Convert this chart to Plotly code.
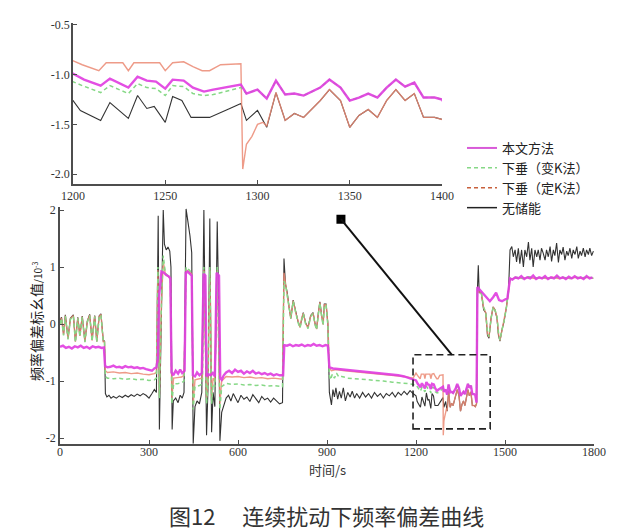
import plotly.graph_objects as go

# ---------------- data (time s, value p.u. x10^-3) ----------------
BLACK = [(0,0.05),(5,0.12),(12,-0.18),(18,0.16),(27,-0.25),(35,0.1),(45,0.16),(52,-0.3),(60,0.12),(67,-0.2),(75,0.14),(84,-0.3),(92,0.05),(100,0.17),(108,-0.28),(117,0.15),(124,-0.3),(132,0.14),(138,0.18),(146,-0.3),(150,-0.3),
 (153,-1.22),(158,-1.28),(165,-1.25),(172,-1.3),(180,-1.27),(190,-1.3),(200,-1.26),(210,-1.29),(220,-1.25),(230,-1.28),(240,-1.24),(250,-1.27),(260,-1.23),(270,-1.26),(280,-1.22),(290,-1.25),(300,-1.3),(310,-1.22),(318,-1.15),(325,-1.2),
 (331,1.9),(335,-1.85),(342,0.5),(348,2.0),(352,1.4),(358,1.3),(364,1.35),(370,1.28),(374,1.0),(378,-1.85),(382,-1.35),(390,-1.3),(398,-1.38),(405,-1.25),(412,-1.3),(418,-1.2),(425,2.02),(432,1.8),(438,1.55),(444,1.25),(449,-2.1),(455,-1.45),(462,-1.35),(470,-1.4),(478,-1.2),(485,2.0),(490,0.2),(494,-1.95),(499,-1.1),(505,1.85),(511,-1.9),(516,-1.2),(522,-1.45),(530,1.8),(535,0.3),(539,-2.05),
 (545,-1.55),(552,-1.45),(560,-1.3),(568,-1.25),(576,-1.35),(584,-1.22),(592,-1.3),(600,-1.38),(610,-1.25),(620,-1.32),(630,-1.28),(640,-1.36),(650,-1.24),(660,-1.3),(670,-1.38),(680,-1.27),(690,-1.33),(700,-1.3),(710,-1.37),(720,-1.3),(730,-1.35),(740,-1.4),(750,-1.38),
 (755,1.15),(760,0.7),(766,0.55),(772,0.3),(778,0.1),(786,0.42),(795,0.2),(802,0.05),(809,-0.05),(815,0.12),(820,0.2),(828,0.02),(836,-0.06),(845,0.15),(853,0.2),(860,0.0),(865,-0.08),(871,0.2),(876,0.39),(882,0.15),(887,0.0),(891,0.35),(897,0.35),(903,0.0),
 (908,-1.2),(915,-1.42),(920,-1.15),(925,-1.28),(930,-1.12),(936,-1.32),(942,-1.18),(948,-1.3),(955,-1.12),(962,-1.35),(970,-1.2),(978,-1.28),(985,-1.18),(993,-1.3),(1000,-1.22),(1010,-1.3),(1020,-1.2),(1030,-1.28),(1040,-1.22),(1050,-1.3),(1060,-1.2),(1070,-1.27),(1080,-1.22),(1090,-1.3),(1100,-1.22),(1110,-1.26),(1120,-1.2),(1130,-1.28),(1140,-1.2),(1150,-1.25),(1160,-1.18),(1170,-1.24),(1180,-1.17),(1190,-1.22),
 (1200,-1.26),(1204,-1.36),(1215,-1.46),(1220,-1.28),(1230,-1.44),(1235,-1.21),(1240,-1.34),(1244,-1.32),(1250,-1.48),(1254,-1.22),(1259,-1.26),(1264,-1.43),(1269,-1.43),(1274,-1.43),(1285,-1.34),(1291,-1.29),(1294,-1.46),(1300,-1.36),(1305,-1.53),(1310,-1.18),(1315,-1.46),(1320,-1.39),(1325,-1.43),(1334,-1.26),(1339,-1.15),(1345,-1.26),(1350,-1.53),(1355,-1.41),(1360,-1.35),(1365,-1.43),(1370,-1.26),(1375,-1.15),(1380,-1.26),(1385,-1.19),(1390,-1.43),(1396,-1.43),(1400,-1.45),
 (1404,-1.4),(1407,0.6),(1410,1.03),(1413,0.55),(1420,0.55),(1428,0.25),(1435,0.2),(1441,-0.2),(1446,-0.25),(1453,0.1),(1460,0.3),(1466,0.25),(1473,0.1),(1478,-0.2),(1483,-0.3),(1490,-0.1),(1497,0.05),(1505,0.3),(1512,0.6),
 (1517,1.3),(1523,1.36),(1528,1.18),(1534,1.3),(1539,1.09),(1545,1.33),(1550,1.06),(1556,1.3),(1562,1.0),(1567,1.3),(1573,1.18),(1579,1.44),(1584,1.12),(1590,1.33),(1595,1.0),(1601,1.3),(1607,1.18),(1612,1.3),(1618,1.12),(1623,1.33),(1629,1.24),(1635,1.12),(1640,1.3),(1646,1.18),(1652,1.36),(1657,1.1),(1663,1.3),(1668,1.2),(1674,1.42),(1680,1.08),(1685,1.3),(1691,1.22),(1696,1.35),(1702,1.12),(1708,1.28),(1713,1.2),(1719,1.33),(1725,1.15),(1730,1.3),(1736,1.22),(1742,1.36),(1747,1.15),(1753,1.28),(1758,1.2),(1764,1.33),(1770,1.18),(1775,1.3),(1781,1.22),(1786,1.33),(1792,1.2),(1798,1.28)]

GREEN = [(0,0.0),(5,0.1),(12,-0.2),(18,0.14),(27,-0.27),(35,0.08),(45,0.14),(52,-0.32),(60,0.1),(67,-0.22),(75,0.12),(84,-0.32),(92,0.03),(100,0.15),(108,-0.3),(117,0.13),(124,-0.32),(132,0.12),(138,0.16),(146,-0.32),(150,-0.32),
 (153,-0.92),(160,-0.95),(180,-0.96),(200,-0.95),(220,-0.97),(240,-0.96),(260,-0.98),(280,-0.97),(300,-0.99),(318,-0.98),(325,-0.95),
 (330,1.0),(335,-1.3),(342,0.4),(348,1.2),(355,0.9),(365,0.85),(372,0.8),(377,-1.4),(383,-1.05),(395,-1.05),(410,-1.03),(418,-1.0),(425,1.0),(435,0.95),(444,0.9),(449,-1.5),(455,-1.1),(470,-1.08),(480,-1.05),(485,1.0),(494,-1.4),(499,-1.05),(505,1.0),(511,-1.4),(516,-1.05),(522,-1.1),(530,1.0),(539,-1.5),
 (545,-1.1),(560,-1.04),(580,-1.06),(600,-1.05),(620,-1.07),(640,-1.06),(660,-1.08),(680,-1.07),(700,-1.09),(720,-1.08),(740,-1.1),(750,-1.1),
 (755,0.75),(760,0.7),(766,0.5),(772,0.3),(778,0.1),(786,0.4),(795,0.18),(802,0.03),(809,-0.07),(815,0.1),(820,0.18),(828,0.0),(836,-0.08),(845,0.13),(853,0.18),(860,-0.02),(865,-0.1),(871,0.18),(876,0.37),(882,0.13),(887,-0.02),(891,0.33),(897,0.33),(903,-0.02),
 (908,-0.9),(912,-0.98),(918,-0.88),(925,-0.95),(932,-0.86),(940,-0.93),(950,-0.92),(970,-0.95),(1000,-0.96),(1030,-0.98),(1060,-0.99),(1090,-1.0),(1120,-1.02),(1150,-1.03),(1180,-1.05),
 (1200,-1.07),(1205,-1.11),(1215,-1.18),(1220,-1.11),(1230,-1.19),(1235,-1.09),(1240,-1.13),(1245,-1.14),(1250,-1.21),(1254,-1.11),(1260,-1.12),(1265,-1.19),(1271,-1.21),(1276,-1.2),(1285,-1.16),(1291,-1.13),
 (1294,-1.19),(1300,-1.15),(1305,-1.24),(1310,-1.06),(1315,-1.2),(1320,-1.19),(1325,-1.21),(1334,-1.13),(1339,-1.05),(1345,-1.13),(1350,-1.26),(1355,-1.23),(1360,-1.19),(1365,-1.23),(1370,-1.13),(1375,-1.05),(1380,-1.12),(1385,-1.08),(1390,-1.23),(1396,-1.23),(1400,-1.25),
 (1404,-1.38),(1407,0.62),(1413,0.58),(1420,0.55),(1428,0.3),(1435,0.2),(1441,-0.15),(1446,-0.22),(1453,0.1),(1460,0.3),(1466,0.25),(1473,0.15),(1478,-0.15),(1483,-0.28),(1490,-0.1),(1497,0.05),(1505,0.3),(1512,0.55),
 (1517,0.8),(1540,0.82),(1560,0.8),(1580,0.83),(1600,0.81),(1620,0.8),(1640,0.82),(1660,0.8),(1680,0.83),(1700,0.81),(1720,0.8),(1740,0.82),(1760,0.81),(1780,0.83),(1798,0.8)]

RED = [(0,0.02),(5,0.11),(12,-0.19),(18,0.15),(27,-0.26),(35,0.09),(45,0.15),(52,-0.31),(60,0.11),(67,-0.21),(75,0.13),(84,-0.31),(92,0.04),(100,0.16),(108,-0.29),(117,0.14),(124,-0.31),(132,0.13),(138,0.17),(146,-0.31),(150,-0.31),
 (153,-0.82),(160,-0.85),(180,-0.84),(200,-0.86),(220,-0.85),(240,-0.87),(260,-0.86),(280,-0.88),(300,-0.89),(318,-0.87),(325,-0.85),
 (330,0.95),(335,-1.25),(342,0.4),(348,1.1),(355,0.88),(365,0.84),(372,0.8),(377,-1.3),(383,-0.95),(395,-0.94),(410,-0.93),(418,-0.9),(425,0.95),(435,0.92),(444,0.88),(449,-1.4),(455,-0.98),(470,-0.96),(480,-0.95),(485,0.95),(494,-1.3),(499,-0.95),(505,0.95),(511,-1.3),(516,-0.95),(522,-1.0),(530,0.95),(539,-1.4),
 (545,-1.0),(560,-0.92),(580,-0.93),(600,-0.92),(620,-0.94),(640,-0.93),(660,-0.95),(680,-0.94),(700,-0.96),(720,-0.95),(740,-0.97),(750,-0.97),
 (755,0.9),(760,0.7),(766,0.52),(772,0.3),(778,0.1),(786,0.41),(795,0.19),(802,0.04),(809,-0.06),(815,0.11),(820,0.19),(828,0.01),(836,-0.07),(845,0.14),(853,0.19),(860,-0.01),(865,-0.09),(871,0.19),(876,0.38),(882,0.14),(887,-0.01),(891,0.34),(897,0.34),(903,-0.01),
 (908,-0.78),(915,-0.82),(930,-0.8),(960,-0.82),(1000,-0.84),(1040,-0.86),(1080,-0.88),(1120,-0.9),(1160,-0.92),(1190,-0.95),
 (1200,-0.86),(1205,-0.9),(1214,-0.96),(1218,-0.88),(1227,-0.88),(1230,-0.96),(1233,-0.88),(1247,-0.88),(1250,-0.96),(1254,-0.88),(1260,-0.87),(1265,-0.92),(1270,-0.96),(1274,-0.96),(1280,-0.9),(1291,-0.89),
 (1292,-1.95),(1294,-1.7),(1297,-1.62),(1300,-1.5),(1303,-1.48),(1305,-1.52),(1310,-1.18),(1315,-1.46),(1320,-1.39),(1325,-1.43),(1334,-1.26),(1339,-1.15),(1345,-1.26),(1350,-1.53),(1355,-1.41),(1360,-1.35),(1365,-1.43),(1370,-1.26),(1375,-1.15),(1380,-1.26),(1385,-1.19),(1390,-1.43),(1396,-1.43),(1400,-1.45),
 (1404,-1.4),(1407,0.6),(1413,0.56),(1420,0.55),(1428,0.28),(1435,0.2),(1441,-0.17),(1446,-0.23),(1453,0.1),(1460,0.3),(1466,0.25),(1473,0.12),(1478,-0.17),(1483,-0.29),(1490,-0.1),(1497,0.05),(1505,0.3),(1512,0.57),
 (1517,0.79),(1540,0.81),(1560,0.8),(1580,0.82),(1600,0.8),(1620,0.81),(1640,0.8),(1660,0.82),(1680,0.8),(1700,0.81),(1720,0.8),(1740,0.82),(1760,0.8),(1780,0.82),(1798,0.8)]

PROPOSED = [(0,-0.4),(10,-0.38),(20,-0.42),(30,-0.4),(40,-0.43),(50,-0.39),(60,-0.41),(70,-0.38),(80,-0.42),(90,-0.4),(100,-0.43),(110,-0.39),(120,-0.41),(130,-0.4),(140,-0.42),(148,-0.41),
 (152,-0.74),(160,-0.76),(170,-0.75),(180,-0.73),(190,-0.76),(200,-0.75),(210,-0.77),(220,-0.74),(230,-0.76),(240,-0.75),(250,-0.77),(260,-0.76),(270,-0.78),(280,-0.77),(290,-0.79),(300,-0.8),(310,-0.82),(318,-0.78),(325,-0.76),
 (330,-0.6),(334,0.5),(338,0.7),(342,0.92),(350,0.9),(358,0.86),(366,0.84),(372,0.8),(376,-0.85),(382,-0.9),(390,-0.82),(398,-0.87),(405,-0.8),(412,-0.86),(420,-0.82),(424,0.9),(430,0.92),(438,0.88),(444,0.85),(448,-0.9),(455,-0.92),(462,-0.85),(470,-0.9),(478,-0.86),(484,0.88),(490,0.85),(494,-0.92),(500,-0.88),(508,-0.9),(515,-0.86),(522,-0.92),(528,0.9),(536,0.85),(540,-0.95),
 (545,-0.98),(552,-0.9),(560,-0.85),(570,-0.82),(580,-0.86),(590,-0.8),(600,-0.84),(610,-0.82),(620,-0.87),(630,-0.83),(640,-0.86),(650,-0.82),(660,-0.87),(670,-0.85),(680,-0.88),(690,-0.86),(700,-0.89),(710,-0.87),(720,-0.9),(730,-0.88),(740,-0.9),(752,-0.9),
 (756,-0.37),(765,-0.38),(775,-0.36),(785,-0.39),(795,-0.37),(805,-0.38),(815,-0.36),(825,-0.39),(835,-0.37),(845,-0.38),(855,-0.35),(865,-0.38),(875,-0.37),(885,-0.39),(895,-0.37),(903,-0.38),
 (908,-0.76),(920,-0.78),(940,-0.79),(960,-0.8),(980,-0.81),(1000,-0.82),(1020,-0.83),(1040,-0.84),(1060,-0.85),(1080,-0.86),(1100,-0.87),(1120,-0.89),(1140,-0.9),(1160,-0.92),(1180,-0.95),(1190,-0.97),
 (1200,-0.99),(1206,-1.05),(1215,-1.11),(1220,-1.04),(1230,-1.13),(1235,-1.02),(1240,-1.06),(1245,-1.07),(1250,-1.14),(1254,-1.05),(1260,-1.06),(1265,-1.13),(1271,-1.17),(1276,-1.15),(1285,-1.12),(1291,-1.1),(1294,-1.19),(1300,-1.15),(1305,-1.24),(1310,-1.06),(1315,-1.2),(1320,-1.19),(1325,-1.21),(1334,-1.13),(1339,-1.05),(1345,-1.13),(1350,-1.26),(1355,-1.23),(1360,-1.19),(1365,-1.23),(1370,-1.13),(1375,-1.05),(1380,-1.12),(1385,-1.08),(1390,-1.23),(1396,-1.23),(1400,-1.25),
 (1404,-1.38),(1407,0.65),(1415,0.6),(1425,0.55),(1435,0.48),(1449,0.4),(1460,0.47),(1470,0.55),(1480,0.42),(1490,0.4),(1500,0.43),(1508,0.45),
 (1517,0.8),(1525,0.78),(1535,0.82),(1545,0.8),(1555,0.84),(1565,0.79),(1575,0.82),(1585,0.8),(1595,0.85),(1605,0.79),(1615,0.82),(1625,0.8),(1635,0.84),(1645,0.79),(1655,0.82),(1665,0.8),(1675,0.85),(1685,0.8),(1695,0.82),(1705,0.79),(1715,0.83),(1725,0.8),(1735,0.84),(1745,0.8),(1755,0.82),(1765,0.79),(1775,0.84),(1785,0.8),(1795,0.82)]

NAMES = ["本文方法", "下垂（变K法）", "下垂（定K法）", "无储能"]

MAIN_XTICKS = [0, 300, 600, 900, 1200, 1500, 1800]
MAIN_XTEXT = ["0", "300", "600", "900", "1200", "1500", "1800"]
MAIN_YTICKS = [-2, -1, 0, 1, 2]
MAIN_YTEXT = ["-2", "-1", "0", "1", "2"]
INSET_XTICKS = [1200, 1250, 1300, 1350, 1400]
INSET_XTEXT = ["1200", "1250", "1300", "1350", "1400"]
INSET_YTICKS = [-2.0, -1.5, -1.0, -0.5]
INSET_YTEXT = ["-2.0", "-1.5", "-1.0", "-0.5"]

ZOOM_BOX = [1190, 1450, -1.84, -0.54]      # x0, x1, y0, y1 of dashed window
POINTER = [947, 1.84, 1321, -0.54]        # square marker -> box top

# ---------------- styling ----------------
W, H = 640, 531
C_MAG = "#e03ce0"
C_GRN = "#86d886"
C_RED = "#ec8a74"
C_BLK = "#333333"
AX_COL = "#4d4d4d"
NUM_FONT = dict(family="Liberation Serif", size=12, color="#333")
CJK = "Noto Sans CJK SC"

def px_x(p):
    return p / W

def px_y(p):
    return 1 - p / H

fig = go.Figure()

series = [
    (BLACK, dict(color=C_BLK, width=1.1), 1.0),
    (RED, dict(color=C_RED, width=1.4), 0.85),
    (GREEN, dict(color=C_GRN, width=1.5, dash="4px,3px"), 1.0),
    (PROPOSED, dict(color=C_MAG, width=2.4), 0.9),
]
for axes in (("x", "y"), ("x2", "y2")):
    for data, line, op in series:
        t = [p[0] for p in data]
        v = [p[1] for p in data]
        fig.add_trace(go.Scatter(x=t, y=v, mode="lines", line=line, opacity=op,
                                 xaxis=axes[0], yaxis=axes[1], showlegend=False,
                                 hoverinfo="skip"))

# legend entries
leg_styles = [dict(color="#d85ad8", width=2), dict(color=C_GRN, width=1.5, dash="4px,3px"),
              dict(color="#c8603c", width=1.5, dash="4px,3px"), dict(color="#222", width=1.5)]
for i, (nm, st) in enumerate(zip(NAMES, leg_styles)):
    fig.add_trace(go.Scatter(x=[None], y=[None], mode="lines", line=st, name=nm,
                             legendrank=i + 1, xaxis="x", yaxis="y"))

# square marker of pointer
fig.add_trace(go.Scatter(x=[POINTER[0]], y=[POINTER[1]], mode="markers",
                         marker=dict(symbol="square", size=9, color="black"),
                         showlegend=False, hoverinfo="skip"))

axis_common = dict(showline=True, linecolor=AX_COL, linewidth=1.5, ticks="inside",
                   ticklen=4, tickcolor=AX_COL, tickwidth=1.2, showgrid=False,
                   zeroline=False, tickfont=NUM_FONT, mirror=False, automargin=False)

fig.update_layout(
    width=W, height=H, autosize=False,
    margin=dict(l=0, r=0, t=0, b=0),
    paper_bgcolor="white", plot_bgcolor="white",
    xaxis=dict(domain=[px_x(60), px_x(594)], range=[0, 1800], tickmode="array",
               tickvals=MAIN_XTICKS, ticktext=MAIN_XTEXT, anchor="y",
               ticklabelstandoff=-4, **axis_common),
    yaxis=dict(domain=[px_y(443.7), px_y(207.2)], range=[-2.1, 2.05], tickmode="array",
               tickvals=MAIN_YTICKS, ticktext=MAIN_YTEXT, anchor="x", **axis_common),
    xaxis2=dict(domain=[px_x(73), px_x(442)], range=[1200, 1400], tickmode="array",
                tickvals=INSET_XTICKS, ticktext=INSET_XTEXT, anchor="y2", **axis_common),
    yaxis2=dict(domain=[px_y(184), px_y(23)], range=[-2.1, -0.48], tickmode="array",
                tickvals=INSET_YTICKS, ticktext=INSET_YTEXT, anchor="x2",
                ticklabelstandoff=-1, **axis_common),
    legend=dict(x=px_x(462), y=px_y(133), xanchor="left", yanchor="top",
                font=dict(family=CJK, size=13, color="#222"), bgcolor="rgba(0,0,0,0)",
                tracegroupgap=0, itemwidth=30),
    shapes=[
        dict(type="rect", xref="x", yref="y", x0=ZOOM_BOX[0], x1=ZOOM_BOX[1],
             y0=ZOOM_BOX[2], y1=ZOOM_BOX[3], line=dict(color="#222", width=1.6, dash="7px,4px")),
        dict(type="line", xref="x", yref="y", x0=POINTER[0], y0=POINTER[1],
             x1=POINTER[2], y1=POINTER[3], line=dict(color="#111", width=2)),
    ],
    annotations=[
        dict(text="频率偏差标幺值<span style='font-size:10px'>/10<sup>-3</sup></span>",
             textangle=-90, xref="paper", yref="paper", x=px_x(36), y=px_y(322),
             xanchor="center", yanchor="middle",
             showarrow=False, font=dict(family=CJK, size=14, color="#222")),
        dict(text="时间/s", xref="paper", yref="paper", x=px_x(327), y=px_y(469),
             xanchor="center", yanchor="middle",
             showarrow=False, font=dict(family=CJK, size=13, color="#333")),
        dict(text="图12\u3000 连续扰动下频率偏差曲线", xref="paper", yref="paper",
             x=px_x(326), y=px_y(515), xanchor="center", yanchor="middle", showarrow=False,
             font=dict(family=CJK, size=22, color="#333")),
    ],
)

fig.write_html("out.html", config={"displayModeBar": False},
               post_script="document.body.style.margin='0';document.body.style.overflow='hidden';")
